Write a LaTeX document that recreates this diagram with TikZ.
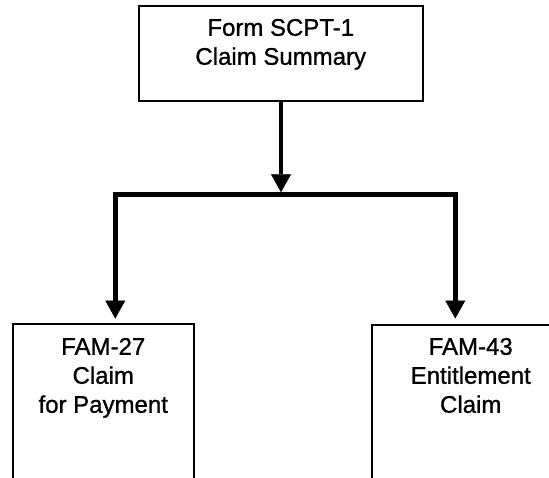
\documentclass[tikz,border=0pt]{standalone}
\usepackage{fontspec}
\setmainfont{Liberation Sans}
\newfontfamily\formfont{Liberation Sans}[FakeBold=1]
\usetikzlibrary{arrows.meta,positioning}

\begin{document}
\begin{tikzpicture}[x=1pt,y=1pt,
  form/.style={draw,line width=1.5pt,anchor=north west,inner sep=0pt},
  formtext/.style={align=center,inner sep=0pt,font=\formfont\fontsize{24}{29}\selectfont},
  flow/.style={line width=4.5pt,-{Triangle[length=18pt,width=20pt,line width=0.5pt]}}]
\useasboundingbox (0,0) rectangle (549,-477);
\clip (0,0) rectangle (549,-477);
\node[form,minimum width=284pt,minimum height=95pt] (scpt) at (138,-5) {};
\node[form,minimum width=181pt,minimum height=200pt] (fam27) at (12,-323) {};
\node[form,minimum width=198pt,minimum height=200pt] (fam43) at (371,-324) {};
\node[formtext,below=13.8pt of scpt.north] (scpttext) {Form SCPT-1\\Claim Summary};
\node[formtext,below=14.8pt of fam27.north] (fam27text) {FAM-27\\Claim\\for Payment};
\node[formtext,below=13.8pt of fam43.north] (fam43text) {FAM-43\\Entitlement\\Claim};
\coordinate (fork) at (281,-194.5);
\draw[flow,shorten >=2.25pt] (scpt.south -| fork) -- (fork);
\draw[flow,shorten >=4.5pt] (fork) -| ([xshift=12pt]fam27.north);
\draw[flow,shorten >=5.5pt] (fork) -| ([xshift=-15.5pt]fam43.north);
\end{tikzpicture}
\end{document}
